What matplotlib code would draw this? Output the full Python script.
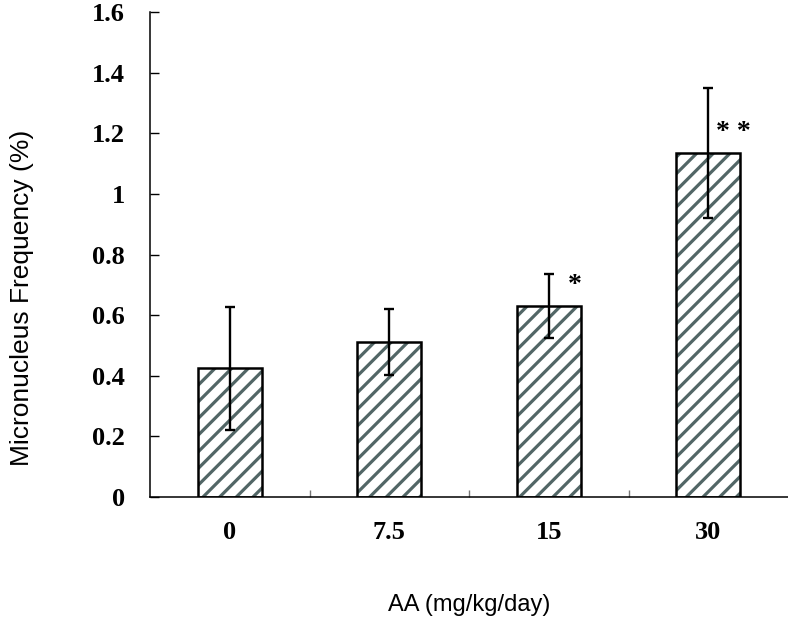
import matplotlib
matplotlib.use("Agg")
import matplotlib.pyplot as plt
import numpy as np

doses = ["0", "7.5", "15", "30"]
freq = [0.425, 0.512, 0.630, 1.135]
err = [0.203, 0.108, 0.105, 0.215]
marks = ["", "", "*", "* *"]
yticks = [0, 0.2, 0.4, 0.6, 0.8, 1.0, 1.2, 1.4, 1.6]

plt.rcParams["hatch.linewidth"] = 2.3

fig = plt.figure(figsize=(7.88, 6.19), dpi=100)
ax = fig.add_axes([0.1904, 0.1971, 0.8096, 0.7835])

x = np.arange(len(doses))
# hatch layer, then the black outline on top
ax.bar(x, freq, width=0.4, color="white", edgecolor="#526666", hatch="//",
       linewidth=0, zorder=2)
ax.bar(x, freq, width=0.4, fill=False, edgecolor="black", linewidth=1.8, zorder=3)
ax.errorbar(x, freq, yerr=err, fmt="none", ecolor="black", elinewidth=1.7,
            capsize=3.6, capthick=1.7, zorder=4)

for i, m in enumerate(marks):
    if m:
        ax.text(i + 0.16, freq[i] + 0.068, m, ha="center", va="center",
                fontsize=20, fontweight="bold", family="Liberation Serif")

ax.set_xlim(-0.5, 3.5)
ax.set_ylim(0, 1.6)
ax.set_yticks(yticks)
ax.set_yticklabels(["%g" % v for v in yticks], family="Liberation Serif",
                   fontweight="bold", fontsize=19)
ax.set_xticks(x)
ax.set_xticklabels(doses, family="Liberation Serif", fontweight="bold", fontsize=19)
ax.set_xticks([0.5, 1.5, 2.5], minor=True)
ax.tick_params(axis="x", which="major", length=0, pad=17)
ax.tick_params(axis="x", which="minor", direction="in", length=5, width=1, color="#777777")
ax.tick_params(axis="y", direction="in", length=6.5, width=1, pad=18)

for s in ["top", "right"]:
    ax.spines[s].set_visible(False)
for s in ["left", "bottom"]:
    ax.spines[s].set_linewidth(1.1)

fig.text(22 / 788, 1 - 298 / 619, "Micronucleus Frequency (%)", rotation=90,
         ha="center", va="center", family="Liberation Sans", fontsize=19)
fig.text(469 / 788, 1 - 605 / 619, "AA (mg/kg/day)", ha="center", va="center",
         family="Liberation Sans", fontsize=17)

fig.savefig("out.png", dpi=100)
